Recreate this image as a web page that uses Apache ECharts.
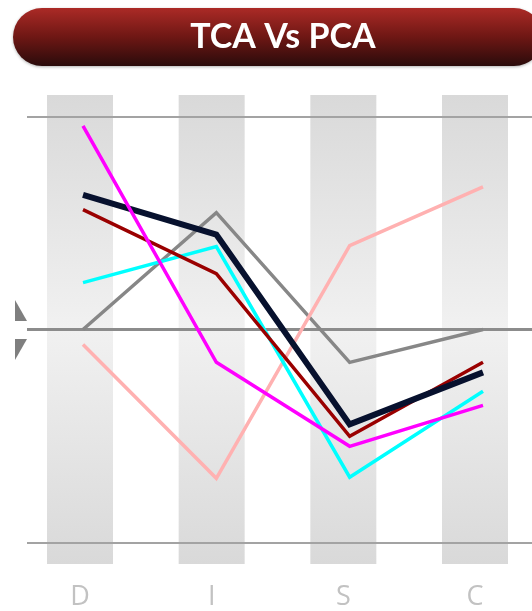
<!DOCTYPE html>
<html>
<head>
<meta charset="utf-8">
<style>
  html, body { margin: 0; padding: 0; background: #fff; }
  #chart { width: 532px; height: 611px; }
</style>
<script src="https://cdn.jsdelivr.net/npm/echarts@6/dist/echarts.min.js"></script>
</head>
<body>
<div id="chart"></div>
<script>
// categories and scale
const categories = ['D', 'I', 'S', 'C'];
const yLimit = 110;
const guideLines = [100, 0, -100];

// series values (centre line = 0, outer lines = ±100)
const magentaVals = [95.5, -15.4, -54.8, -35.6];
const navyVals = [63.2, 44.5, -44.5, -20.1];
const darkRedVals = [56.2, 26.2, -50.1, -15.4];
const cyanVals = [22.0, 38.9, -69.3, -29.0];
const grayVals = [0, 54.8, -15.4, 0];
const pinkVals = [-7.0, -69.8, 39.3, 66.9];

const chart = echarts.init(document.getElementById('chart'));

function pairs(vals) {
  return vals.map(function (v, i) { return [i, v]; });
}

function lineSeries(vals, color, width) {
  return {
    type: 'line',
    xAxisIndex: 1,
    data: pairs(vals),
    symbol: 'none',
    lineStyle: { color: color, width: width, join: 'miter' },
    z: 5,
    silent: true
  };
}

const option = {
  animation: false,
  grid: { left: 27, right: 0, top: 95, bottom: 46 },
  xAxis: [
    {
      type: 'value',
      min: -0.4025,
      max: 3.4329,
      splitLine: { show: false },
      axisLine: { show: false },
      axisTick: { show: false },
      axisLabel: {
        customValues: [0, 1, 2, 3],
        formatter: function (v) { return categories[Math.round(v)]; },
        color: '#c2c2c2',
        fontSize: 27,
        fontFamily: 'Open Sans',
        margin: 20
      }
    },
    {
      type: 'value',
      min: -0.42,
      max: 3.3675,
      show: false
    }
  ],
  yAxis: {
    type: 'value',
    min: -yLimit,
    max: yLimit,
    show: false
  },
  graphic: [
    {
      type: 'rect',
      shape: { x: 13, y: 8, width: 530, height: 58, r: 29 },
      style: {
        fill: new echarts.graphic.LinearGradient(0, 0, 0, 1, [
          { offset: 0, color: '#ab2a26' },
          { offset: 0.5, color: '#6e1714' },
          { offset: 1, color: '#2a0b0b' }
        ]),
        shadowBlur: 3,
        shadowColor: 'rgba(0,0,0,0.3)',
        shadowOffsetY: 1
      }
    },
    {
      type: 'text',
      x: 283,
      y: 37,
      style: {
        text: 'TCA Vs PCA',
        fill: '#ffffff',
        font: 'bold 34px Lato',
        align: 'center',
        verticalAlign: 'middle'
      }
    },
    {
      type: 'polygon',
      shape: { points: [[15, 300], [15, 321], [27, 321]] },
      style: { fill: '#7f7f7f' }
    },
    {
      type: 'polygon',
      shape: { points: [[15, 339], [27, 339], [15, 360]] },
      style: { fill: '#7f7f7f' }
    }
  ],
  series: [
    {
      type: 'bar',
      xAxisIndex: 0,
      barWidth: 66,
      barGap: '-100%',
      data: categories.map(function (c, i) { return [i, yLimit]; }),
      itemStyle: {
        color: new echarts.graphic.LinearGradient(0, 0, 0, 1, [
          { offset: 0, color: '#d9d9d9' },
          { offset: 1, color: '#f1f1f1' }
        ])
      },
      silent: true,
      z: 1
    },
    {
      type: 'bar',
      xAxisIndex: 0,
      barWidth: 66,
      barGap: '-100%',
      data: categories.map(function (c, i) { return [i, -yLimit]; }),
      itemStyle: {
        color: new echarts.graphic.LinearGradient(0, 0, 0, 1, [
          { offset: 0, color: '#f1f1f1' },
          { offset: 1, color: '#d9d9d9' }
        ])
      },
      silent: true,
      z: 1,
      markLine: {
        silent: true,
        symbol: 'none',
        label: { show: false },
        data: guideLines.map(function (v) {
          return {
            yAxis: v,
            lineStyle: {
              color: v === 0 ? '#8c8c8c' : '#a3a3a3',
              width: v === 0 ? 3 : 2,
              type: 'solid'
            }
          };
        })
      }
    },
    lineSeries(grayVals, '#878787', 3.5),
    lineSeries(pinkVals, '#ffb1b1', 3.5),
    lineSeries(cyanVals, '#00ffff', 3.5),
    lineSeries(darkRedVals, '#9a0000', 3.5),
    lineSeries(navyVals, '#07112e', 6),
    lineSeries(magentaVals, '#ff00ff', 3.5)
  ]
};

chart.setOption(option);
</script>
</body>
</html>
